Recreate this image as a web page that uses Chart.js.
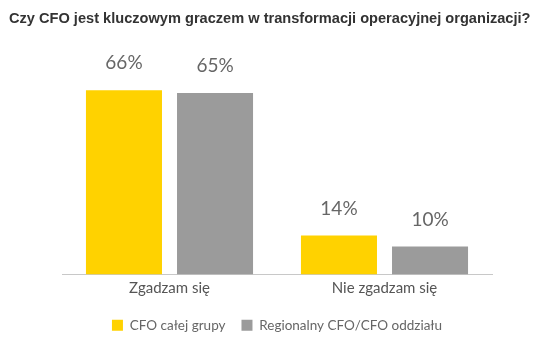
<!DOCTYPE html>
<html>

<head>
    <meta charset="utf-8">
    <title>Czy CFO jest kluczowym graczem</title>
    <script src="https://cdn.jsdelivr.net/npm/chart.js"></script>
    <style>
        html, body { margin: 0; padding: 0; background: #fff; }
        #wrap { width: 539px; height: 342px; }
    </style>
</head>

<body>

    <div id="wrap"><canvas id="myChart" width="539" height="342"></canvas></div>

    <script>
        var titleText = 'Czy CFO jest kluczowym graczem w transformacji operacyjnej organizacji?';
        var categories = ['Zgadzam się', 'Nie zgadzam się'];
        var seriesNames = ['CFO całej grupy', 'Regionalny CFO/CFO oddziału'];
        var groupValues = [66, 14];
        var regionalValues = [65, 10];
        var seriesColors = ['#ffd200', '#9b9b9b'];

        // title is left-aligned to the canvas edge, not to the padded chart box
        var leftTitle = {
            id: 'leftTitle',
            afterDraw(chart) {
                var ctx = chart.ctx;
                ctx.save();
                ctx.font = 'bold 14.6px Arial, "Liberation Sans", sans-serif';
                ctx.fillStyle = '#333';
                ctx.textAlign = 'left';
                ctx.textBaseline = 'alphabetic';
                ctx.fillText(titleText, 9, 23);
                ctx.restore();
            }
        };

        // percent labels above each bar
        var valueLabels = {
            id: 'valueLabels',
            afterDatasetsDraw(chart) {
                var ctx = chart.ctx;
                ctx.save();
                ctx.font = '19px Lato, "Liberation Sans", sans-serif';
                ctx.fillStyle = '#666';
                ctx.textAlign = 'center';
                ctx.textBaseline = 'middle';
                chart.data.datasets.forEach(function (ds, i) {
                    chart.getDatasetMeta(i).data.forEach(function (bar, j) {
                        ctx.fillText(ds.data[j] + '%', bar.x, bar.y - 27);
                    });
                });
                ctx.restore();
            }
        };

        var ctx = document.getElementById('myChart').getContext('2d');
        var myChart = new Chart(ctx, {
            type: 'bar',
            data: {
                labels: categories,
                datasets: [{
                    label: seriesNames[0],
                    data: groupValues,
                    backgroundColor: seriesColors[0]
                }, {
                    label: seriesNames[1],
                    data: regionalValues,
                    backgroundColor: seriesColors[1]
                }]
            },
            options: {
                responsive: false,
                animation: false,
                categoryPercentage: 0.847,
                barPercentage: 0.835,
                layout: {
                    padding: { left: 62, right: 47, top: 79, bottom: 0 }
                },
                scales: {
                    x: {
                        grid: { display: false, drawTicks: false },
                        border: { display: true, color: '#c8c8c8', width: 1 },
                        ticks: {
                            color: '#555',
                            padding: 5,
                            font: { family: 'Lato, "Liberation Sans", sans-serif', size: 15 }
                        }
                    },
                    y: {
                        display: false,
                        min: 0,
                        max: 70
                    }
                },
                plugins: {
                    title: { display: false },
                    legend: {
                        position: 'bottom',
                        labels: {
                            color: '#666',
                            boxWidth: 11,
                            boxHeight: 11,
                            padding: 16,
                            font: { family: 'Lato, "Liberation Sans", sans-serif', size: 13.5 }
                        }
                    },
                    tooltip: { enabled: false }
                }
            },
            plugins: [valueLabels, leftTitle]
        });
    </script>

</body>

</html>
